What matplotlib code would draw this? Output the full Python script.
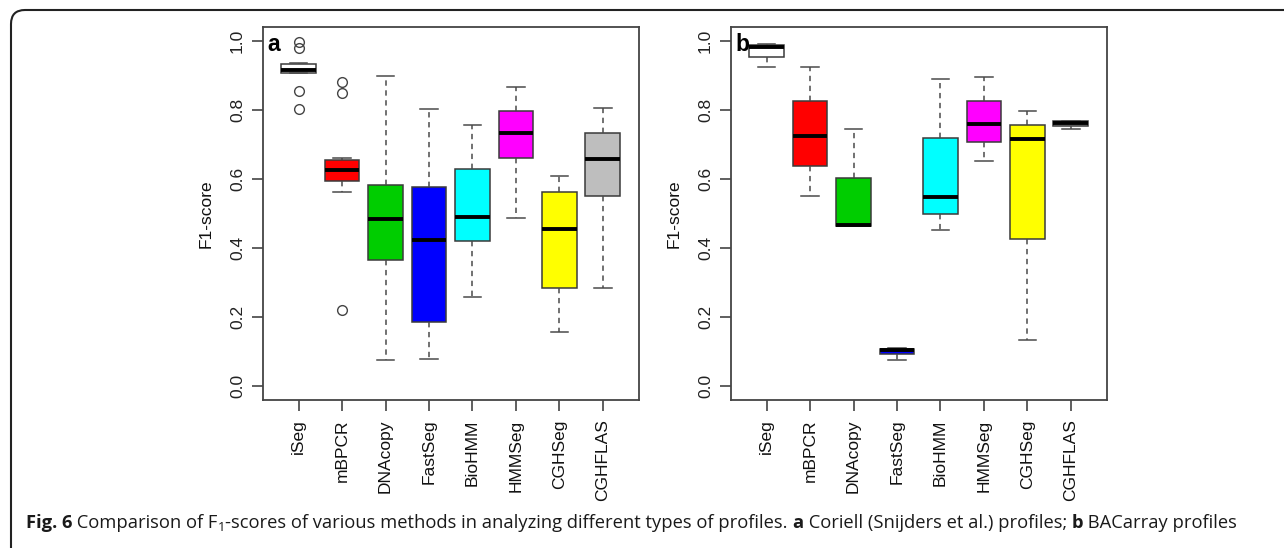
import matplotlib
matplotlib.use("Agg")
import matplotlib.pyplot as plt
from matplotlib.path import Path
from matplotlib.patches import PathPatch

methods = ["iSeg", "mBPCR", "DNAcopy", "FastSeg", "BioHMM", "HMMSeg", "CGHSeg", "CGHFLAS"]
colors = ["#FFFFFF", "#FF0000", "#00CD00", "#0000FF", "#00FFFF", "#FF00FF", "#FFFF00", "#BEBEBE"]

# Panel a: Coriell (Snijders et al.) profiles
a_whislo = [0.908, 0.563, 0.077, 0.080, 0.257, 0.487, 0.157, 0.283]
a_q1     = [0.908, 0.594, 0.366, 0.186, 0.419, 0.662, 0.285, 0.550]
a_med    = [0.916, 0.627, 0.483, 0.422, 0.490, 0.734, 0.456, 0.657]
a_q3     = [0.933, 0.656, 0.583, 0.577, 0.630, 0.798, 0.561, 0.734]
a_whishi = [0.936, 0.662, 0.899, 0.802, 0.757, 0.867, 0.608, 0.805]
a_fliers = [[0.998, 0.979, 0.855, 0.802], [0.880, 0.850, 0.222], [], [], [], [], [], []]

# Panel b: BACarray profiles
b_whislo = [0.924, 0.550, 0.465, 0.076, 0.453, 0.653, 0.135, 0.745]
b_q1     = [0.953, 0.637, 0.465, 0.092, 0.500, 0.706, 0.426, 0.754]
b_med    = [0.981, 0.724, 0.466, 0.104, 0.548, 0.759, 0.717, 0.762]
b_q3     = [0.988, 0.825, 0.604, 0.109, 0.719, 0.827, 0.757, 0.767]
b_whishi = [0.991, 0.924, 0.744, 0.110, 0.889, 0.896, 0.797, 0.767]
b_fliers = [[], [], [], [], [], [], [], []]

yticks = [0.0, 0.2, 0.4, 0.6, 0.8, 1.0]
ytick_labels = ["0.0", "0.2", "0.4", "0.6", "0.8", "1.0"]

W, H = 1284, 548
fig = plt.figure(figsize=(W / 100, H / 100), dpi=100)
fig.patch.set_facecolor("white")

plt.rcParams['font.family'] = ['Liberation Sans', 'DejaVu Sans']

edge = "#3a3a3a"
whisk = "#4a4a4a"


def panel(rect, letter, wlo, q1, med, q3, whi, fl):
    ax = fig.add_axes(rect)
    stats = []
    for i in range(len(methods)):
        stats.append(dict(whislo=wlo[i], q1=q1[i], med=med[i], q3=q3[i],
                          whishi=whi[i], fliers=fl[i], label=methods[i]))
    bp = ax.bxp(stats, positions=range(1, len(methods) + 1), widths=0.8,
                patch_artist=True, showfliers=True,
                boxprops=dict(edgecolor=edge, linewidth=1.1),
                medianprops=dict(color="black", linewidth=2.8, solid_capstyle="butt"),
                whiskerprops=dict(color=whisk, linewidth=1.1, linestyle=(0, (3.5, 3))),
                capprops=dict(color=whisk, linewidth=1.1),
                capwidths=0.4,
                flierprops=dict(marker="o", markerfacecolor="none",
                                markeredgecolor="#444444", markersize=7, markeredgewidth=1.0))
    for patch, c in zip(bp["boxes"], colors):
        patch.set_facecolor(c)
    ax.set_xlim(0.18, 8.82)
    ax.set_ylim(-0.04, 1.04)
    ax.set_xticks(range(1, len(methods) + 1))
    ax.set_xticklabels(methods, rotation=90, fontsize=12.5, color="#111111")
    ax.set_yticks(yticks)
    ax.set_yticklabels(ytick_labels, rotation=90, va="center", fontsize=12.5, color="#222222")
    ax.tick_params(axis="both", length=8, width=1.2, color="#444444", pad=6)
    ax.tick_params(axis="y", pad=5)
    for s in ax.spines.values():
        s.set_color("#444444")
        s.set_linewidth(1.3)
    ax.set_ylabel("F1-score", fontsize=12.5, labelpad=12, color="#111111")
    ax.text(0.012, 0.985, letter, transform=ax.transAxes, fontsize=16.5, fontweight="bold",
            ha="left", va="top", color="black")
    return ax


axa = panel([263 / W, 1 - 400 / H, 375.5 / W, 373 / H], "a",
            a_whislo, a_q1, a_med, a_q3, a_whishi, a_fliers)
axb = panel([731 / W, 1 - 400 / H, 375.5 / W, 373 / H], "b",
            b_whislo, b_q1, b_med, b_q3, b_whishi, b_fliers)

# border: left and top lines with rounded corner
r = 14
verts = [(11, H + 5), (11, 10 + r), (11, 10), (11 + r, 10), (W + 5, 10)]
codes = [Path.MOVETO, Path.LINETO, Path.CURVE3, Path.CURVE3, Path.LINETO]
verts_fig = [(x / W, 1 - y / H) for x, y in verts]
fig.patches.append(PathPatch(Path(verts_fig, codes), transform=fig.transFigure,
                             fill=False, edgecolor="#222222", linewidth=1.5))

# caption
segments = [
    ("Fig. 6", "bold", 0),
    (" Comparison of F", "normal", 0),
    ("1", "normal", -1),
    ("-scores of various methods in analyzing different types of profiles. ", "normal", 0),
    ("a", "bold", 0),
    (" Coriell (Snijders et al.) profiles; ", "normal", 0),
    ("b", "bold", 0),
    (" BACarray profiles", "normal", 0),
]
cap_font = ["Open Sans", "DejaVu Sans"]
fs = 13.2
fig.canvas.draw()
renderer = fig.canvas.get_renderer()
x = 26
base_y = 528
for s, w, sub in segments:
    size = fs * 0.7 if sub else fs
    yy = base_y + (3 if sub else 0)
    t = fig.text(x / W, 1 - yy / H, s, fontsize=size, fontweight=w, family=cap_font,
                 ha="left", va="baseline", color="#1a1a1a")
    bb = t.get_window_extent(renderer=renderer)
    x += bb.width

fig.savefig("out.png", dpi=100, facecolor="white")
